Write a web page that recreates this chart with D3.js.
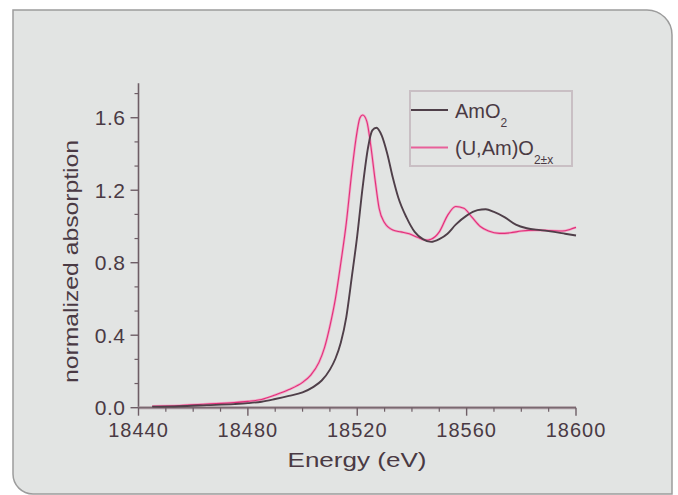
<!DOCTYPE html>
<html><head><meta charset="utf-8">
<script src="https://cdn.jsdelivr.net/npm/d3@7"></script>
<style>html,body{margin:0;padding:0;background:#fff;}svg{display:block;}</style>
</head><body>
<svg id="c" width="678" height="495"></svg>
<script>
// ---- data ----
const amo2Energy = [18445,18455,18465,18475,18480,18485,18490,18495,18500,18504,18507,18510,18512,18514,18516,18518,18520,18522,18524,18525.5,18527,18529,18531,18533,18535,18538,18541,18544,18547,18550,18553,18556,18560,18564,18567,18570,18574,18578,18582,18587,18592,18596,18600];
const amo2Values = [0.005,0.008,0.014,0.02,0.025,0.033,0.048,0.065,0.085,0.115,0.15,0.21,0.27,0.36,0.5,0.72,0.95,1.22,1.44,1.53,1.545,1.5,1.4,1.27,1.16,1.05,0.97,0.93,0.915,0.93,0.96,1.01,1.06,1.09,1.095,1.08,1.05,1.01,0.99,0.98,0.97,0.96,0.95];
const uamEnergy = [18445,18455,18465,18475,18480,18485,18490,18495,18500,18503,18506,18508,18510,18512,18514,18516,18518,18519.5,18521,18522,18523.5,18525,18526.5,18528,18530,18533,18536,18539,18542,18545,18547,18550,18553,18556,18559,18562,18565,18568,18572,18576,18580,18585,18590,18595,18598,18600];
const uamValues = [0.008,0.012,0.02,0.028,0.035,0.045,0.07,0.1,0.14,0.18,0.25,0.33,0.45,0.6,0.8,1.02,1.3,1.48,1.6,1.615,1.58,1.44,1.26,1.1,1.02,0.98,0.97,0.96,0.94,0.925,0.93,0.97,1.06,1.11,1.1,1.05,1.0,0.975,0.962,0.965,0.975,0.98,0.978,0.975,0.985,0.995];
const xTicks = [18440,18480,18520,18560,18600];
const yTicks = [0.0,0.4,0.8,1.2,1.6];
const seriesNames = ["AmO", "(U,Am)O"];
const seriesSubs = ["2", "2±x"];

// ---- drawing ----
const svg = d3.select("#c");
const ink = "#4a3a44", axisCol = "#6e5e66";
const fam = "'Liberation Sans', Arial, Helvetica, sans-serif";

svg.append("path")
  .attr("d","M13,10 H647 A25,25 0 0 1 672,35 V494 H33 A20,20 0 0 1 13,474 Z")
  .attr("fill","#e2e4e3").attr("stroke","#9c9c9c").attr("stroke-width",1.5);

const x = d3.scaleLinear().domain([18440,18600]).range([138.5,576]);
const y = d3.scaleLinear().domain([0,1.79]).range([407.7,83.3]);

// y axis
const yMinor = d3.range(0,1.79,0.4/3).filter(v=>Math.abs(Math.round(v/0.4)*0.4-v)>0.01);
const yAx = svg.append("g").attr("transform",`translate(${x(18440)},0)`);
yAx.append("line").attr("y1",y(0)).attr("y2",y(1.79)).attr("stroke",axisCol).attr("stroke-width",1.6);
yAx.selectAll(".mj").data(yTicks).join("line").attr("x1",-8).attr("x2",0)
  .attr("y1",d=>y(d)).attr("y2",d=>y(d)).attr("stroke",axisCol).attr("stroke-width",1.4);
yAx.selectAll(".mn").data(yMinor).join("line").attr("x1",-4).attr("x2",0)
  .attr("y1",d=>y(d)).attr("y2",d=>y(d)).attr("stroke",axisCol).attr("stroke-width",1.2);
yAx.selectAll("text").data(yTicks).join("text")
  .attr("x",-13).attr("y",d=>y(d)+7.5).attr("text-anchor","end")
  .attr("font-family",fam).attr("font-size",21).attr("fill",ink).attr("letter-spacing",0.5)
  .text(d=>d3.format(".1f")(d));

// x axis
const xMinor = d3.range(18440,18601,10).filter(v=>v%40!==0);
const xAx = svg.append("g").attr("transform",`translate(0,${y(0)})`);
xAx.append("line").attr("x1",x(18440)).attr("x2",x(18600)).attr("stroke","#a8989f").attr("stroke-width",3);
xAx.append("line").attr("x1",x(18440)).attr("x2",x(18600)).attr("stroke",axisCol).attr("stroke-width",1);
xAx.selectAll(".mj").data(xTicks).join("line").attr("x1",d=>x(d)).attr("x2",d=>x(d))
  .attr("y1",0).attr("y2",8).attr("stroke",axisCol).attr("stroke-width",1.4);
xAx.selectAll(".mn").data(xMinor).join("line").attr("x1",d=>x(d)).attr("x2",d=>x(d))
  .attr("y1",0).attr("y2",4).attr("stroke",axisCol).attr("stroke-width",1.2);
xAx.selectAll("text").data(xTicks).join("text")
  .attr("x",d=>x(d)).attr("y",29.5).attr("text-anchor","middle")
  .attr("font-family",fam).attr("font-size",20).attr("fill",ink).attr("letter-spacing",1)
  .text(d=>d);

// titles
svg.append("text").attr("x",357).attr("y",467).attr("text-anchor","middle")
  .attr("font-family",fam).attr("font-size",21).attr("fill",ink)
  .attr("textLength",139).attr("lengthAdjust","spacingAndGlyphs").text("Energy (eV)");
svg.append("text").attr("transform","translate(78,261.5) rotate(-90)").attr("text-anchor","middle")
  .attr("font-family",fam).attr("font-size",20).attr("fill",ink)
  .attr("textLength",243).attr("lengthAdjust","spacingAndGlyphs").text("normalized absorption");

// curves
const line = d3.line().x(d=>x(d[0])).y(d=>y(d[1])).curve(d3.curveMonotoneX);
const amo2 = d3.zip(amo2Energy, amo2Values);
const uam = d3.zip(uamEnergy, uamValues);
svg.append("path").attr("d",line(uam)).attr("fill","none").attr("stroke","#f2a6c6").attr("stroke-width",2.6);
svg.append("path").attr("d",line(uam)).attr("fill","none").attr("stroke","#e0307a").attr("stroke-width",1.1);
svg.append("path").attr("d",line(amo2)).attr("fill","none").attr("stroke","#4f3f49").attr("stroke-width",1.9);

// legend
const lg = svg.append("g");
lg.append("rect").attr("x",410).attr("y",91).attr("width",162).attr("height",75)
  .attr("fill","none").attr("stroke","#c9bfc4").attr("stroke-width",2);
const lgCols = ["#4f3f49","#e8609a"];
const lgY = [110,147.5];
seriesNames.forEach((n,i)=>{
  lg.append("line").attr("x1",411).attr("x2",448).attr("y1",lgY[i]).attr("y2",lgY[i])
    .attr("stroke",lgCols[i]).attr("stroke-width",i===0?2.2:2);
  const t = lg.append("text").attr("x",455).attr("y",lgY[i]+7.5)
    .attr("font-family",fam).attr("font-size",20).attr("fill",ink).text(n);
  t.append("tspan").attr("dy",9).attr("font-size",12).text(seriesSubs[i]);
});
</script>
</body></html>
